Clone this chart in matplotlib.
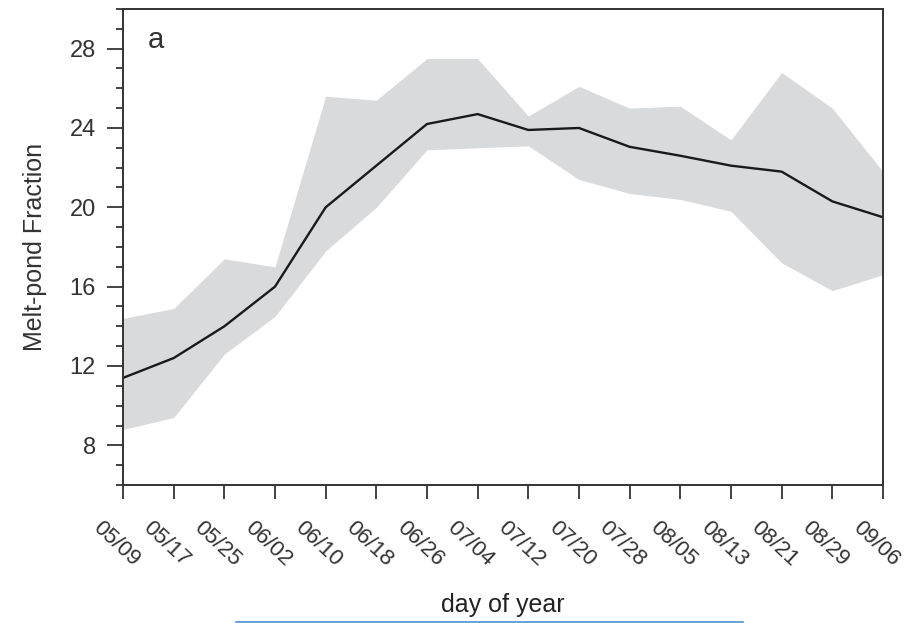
import numpy as np
import matplotlib
matplotlib.use("Agg")
import matplotlib.pyplot as plt
from matplotlib.ticker import MultipleLocator, FixedLocator
from matplotlib.lines import Line2D

plt.rcParams['font.family'] = ['Liberation Sans', 'DejaVu Sans']

# dates every 8 days
dates = ['05/09', '05/17', '05/25', '06/02', '06/10', '06/18', '06/26', '07/04',
         '07/12', '07/20', '07/28', '08/05', '08/13', '08/21', '08/29', '09/06']

# ensemble mean and spread of melt-pond fraction (%)
mean_frac = [11.4, 12.4, 14.0, 16.0, 20.0, 22.1, 24.2, 24.7,
             23.9, 24.0, 23.05, 22.6, 22.1, 21.8, 20.3, 19.5]
upper_frac = [14.4, 14.9, 17.4, 17.0, 25.6, 25.4, 27.5, 27.5,
              24.6, 26.1, 25.0, 25.1, 23.4, 26.8, 25.0, 21.8]
lower_frac = [8.8, 9.4, 12.6, 14.5, 17.8, 20.0, 22.9, 23.0,
              23.1, 21.4, 20.7, 20.4, 19.8, 17.2, 15.8, 16.6]

x = np.arange(len(dates))

fig = plt.figure(figsize=(9.07, 6.23), dpi=100)
ax = fig.add_axes([0.1356, 0.2215, 0.8379, 0.7641])

ax.fill_between(x, lower_frac, upper_frac, color='#d9dadc', linewidth=0)
ax.plot(x, mean_frac, color='#1a1a1a', linewidth=1.7)

ax.set_xlim(0, len(dates) - 1)
ax.set_ylim(6, 30)

ax.yaxis.set_major_locator(FixedLocator([8, 12, 16, 20, 24, 28]))
ax.yaxis.set_minor_locator(MultipleLocator(1))
ax.set_xticks(x)
ax.set_xticklabels(dates, rotation=-43, ha='center', va='top', rotation_mode='anchor',
                   fontsize=16, color='#333333')

ax.tick_params(axis='y', which='major', direction='out', length=11.5, width=1.2,
               labelsize=17, labelcolor='#333333', pad=8, color='#222222')
ax.tick_params(axis='y', which='minor', direction='out', length=5, width=1.2,
               color='#222222')
ax.tick_params(axis='x', which='major', direction='out', length=10, width=1.2,
               pad=27, color='#222222')

for side in ['left', 'right', 'top', 'bottom']:
    ax.spines[side].set_linewidth(1.4)
    ax.spines[side].set_color('#333333')

ax.set_ylabel('Melt-pond Fraction', fontsize=18, labelpad=16, color='#333333')
ax.set_xlabel('day of year', fontsize=18, labelpad=16, color='#222222')
ax.text(0.032, 0.918, 'a', transform=ax.transAxes, fontsize=21, va='baseline',
        color='#333333')

# thin blue underline at the bottom of the picture
fig.add_artist(Line2D([236 / 907, 743 / 907], [1 - 622 / 623, 1 - 622 / 623],
                      transform=fig.transFigure, color='#4a90d9', linewidth=1.2))

fig.savefig('out.png', dpi=100)
